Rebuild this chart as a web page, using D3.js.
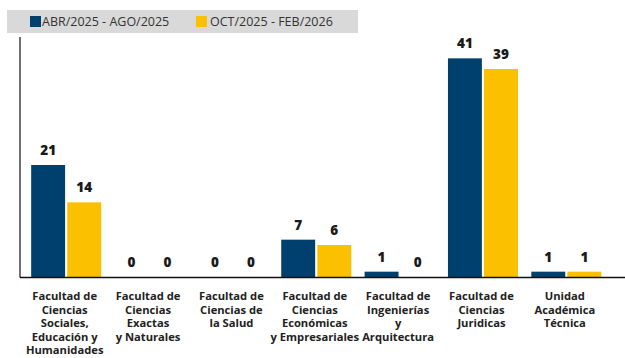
<!DOCTYPE html>
<html>
<head>
<meta charset="utf-8">
<script src="https://cdn.jsdelivr.net/npm/d3@7"></script>
<style>
  html, body { margin: 0; padding: 0; background: #fff; }
  svg { display: block; font-family: "Open Sans", "Noto Sans", sans-serif; }
</style>
</head>
<body>
<svg id="chart" width="625" height="358"></svg>
<script>
// Faculties (label lines) and student counts per period
const categories = [
  ["Facultad de", "Ciencias", "Sociales,", "Educación y", "Humanidades"],
  ["Facultad de", "Ciencias", "Exactas", "y Naturales"],
  ["Facultad de", "Ciencias de", "la Salud"],
  ["Facultad de", "Ciencias", "Económicas", "y Empresariales"],
  ["Facultad de", "Ingenierías", "y", "Arquitectura"],
  ["Facultad de", "Ciencias", "Juridicas"],
  ["Unidad", "Académica", "Técnica"]
];
const seriesNames = ["ABR/2025 - AGO/2025", "OCT/2025 - FEB/2026"];
const seriesA = [21, 0, 0, 7, 1, 41, 1];
const seriesB = [14, 0, 0, 6, 0, 39, 1];
const colors = ["#00406e", "#fbc000"];

const svg = d3.select("#chart");
const margin = { left: 20, top: 37, bottom: 277 };
const plotLeft = 24.5, plotRight = 608;

const x0 = d3.scaleBand()
  .domain(d3.range(categories.length))
  .range([plotLeft, plotRight])
  .paddingInner(0.16)
  .paddingOuter(0.08);
const x1 = d3.scaleBand()
  .domain([0, 1])
  .range([0, x0.bandwidth()])
  .paddingInner(0.06);
const y = d3.scaleLinear().domain([0, 45]).range([margin.bottom, margin.top]);

// Legend strip
const legend = svg.append("g");
legend.append("rect").attr("x", 7).attr("y", 10).attr("width", 351).attr("height", 23).attr("fill", "#d9d9d9");
const legendX = [30, 196];
seriesNames.forEach((name, i) => {
  legend.append("rect").attr("x", legendX[i]).attr("y", 16).attr("width", 11).attr("height", 11).attr("fill", colors[i]);
  legend.append("text").attr("x", legendX[i] + (i === 0 ? 12 : 14)).attr("y", 26)
    .attr("font-size", 12.5).attr("fill", "#333").text(name);
});

// Bars and value labels
const data = categories.map((c, i) => [seriesA[i], seriesB[i]]);
const groups = svg.append("g").selectAll("g").data(data).join("g")
  .attr("transform", (d, i) => `translate(${x0(i)},0)`);

groups.selectAll("rect").data(d => d).join("rect")
  .attr("x", (d, j) => x1(j))
  .attr("width", x1.bandwidth())
  .attr("y", d => y(d))
  .attr("height", d => y(0) - y(d))
  .attr("fill", (d, j) => colors[j]);

groups.selectAll("text").data(d => d).join("text")
  .attr("x", (d, j) => x1(j) + x1.bandwidth() / 2)
  .attr("y", d => y(d) - 10)
  .attr("text-anchor", "middle")
  .attr("font-size", 13.5)
  .attr("font-weight", "800")
  .attr("fill", "#1a1a1a")
  .text(d => d);

// Axis lines
svg.append("line").attr("x1", margin.left).attr("x2", margin.left)
  .attr("y1", margin.top).attr("y2", margin.bottom + 0.5)
  .attr("stroke", "#111").attr("stroke-width", 1.2);
svg.append("line").attr("x1", margin.left).attr("x2", 625)
  .attr("y1", margin.bottom + 0.5).attr("y2", margin.bottom + 0.5)
  .attr("stroke", "#111").attr("stroke-width", 1.6);

// Category labels
const labels = svg.append("g").selectAll("text").data(categories).join("text")
  .attr("transform", (d, i) => `translate(${x0(i) + x0.bandwidth() / 2 - 1.5},300)`)
  .attr("text-anchor", "middle")
  .attr("font-size", 11.2)
  .attr("font-weight", "bold")
  .attr("fill", "#222");
labels.selectAll("tspan").data(d => d).join("tspan")
  .attr("x", 0)
  .attr("y", (d, k) => k * 13.5)
  .text(d => d);
</script>
</body>
</html>
